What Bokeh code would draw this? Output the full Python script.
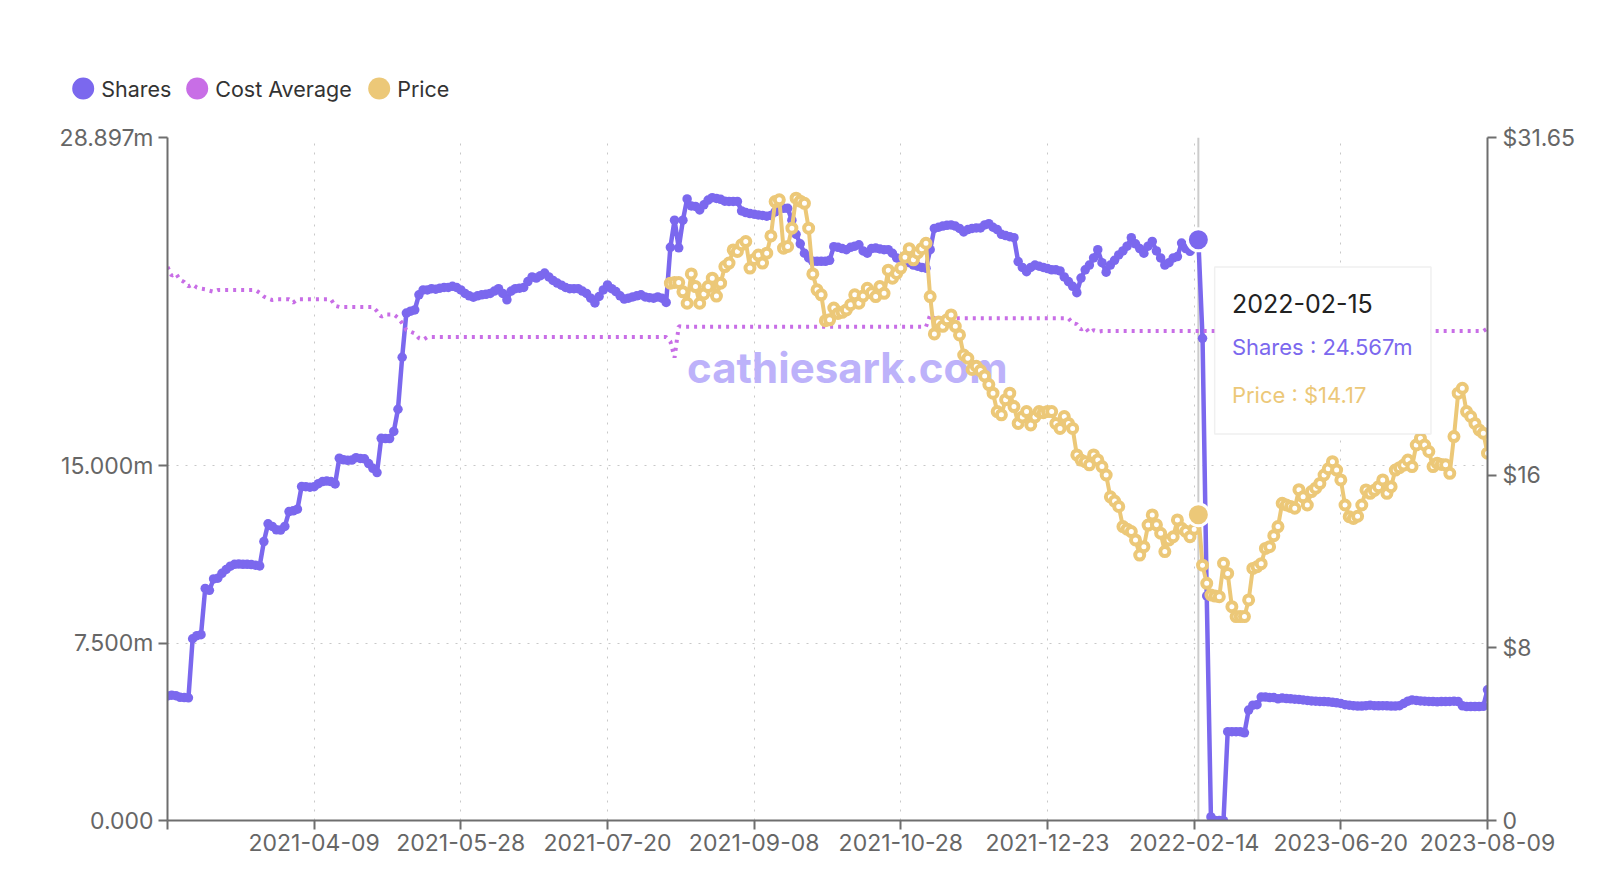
import numpy as np
from bokeh.plotting import figure
from bokeh.models import (Range1d, LinearAxis, FixedTicker, CustomJSTickFormatter, Span,
                          BoxAnnotation, Label, ColumnDataSource)
from bokeh.core.properties import value
from bokeh.embed import file_html
from bokeh.resources import INLINE

# ---------------- data ----------------
series_names = ["Shares", "Cost Average", "Price"]
series_colors = ["#7b68ee", "#c86ee6", "#ecc878"]

# x categories are trading days; a date label every 35 categories
tick_step = 35
tick_labels = ["", "2021-04-09", "2021-05-28", "2021-07-20", "2021-09-08", "2021-10-28",
               "2021-12-23", "2022-02-14", "2023-06-20", "2023-08-09"]

shares_m = [
    5.27, 5.30, 5.28, 5.21, 5.20, 5.19, 7.69, 7.82, 7.86, 9.82,
    9.74, 10.22, 10.25, 10.46, 10.62, 10.76, 10.84, 10.85, 10.84, 10.84,
    10.83, 10.80, 10.77, 11.80, 12.55, 12.44, 12.30, 12.29, 12.44, 13.07,
    13.10, 13.17, 14.13, 14.12, 14.10, 14.12, 14.25, 14.34, 14.36, 14.34,
    14.24, 15.33, 15.26, 15.24, 15.25, 15.35, 15.32, 15.30, 15.10, 14.90,
    14.72, 16.17, 16.16, 16.16, 16.46, 17.40, 19.60, 21.47, 21.55, 21.60,
    22.24, 22.45, 22.45, 22.50, 22.48, 22.52, 22.55, 22.55, 22.60, 22.55,
    22.45, 22.30, 22.20, 22.14, 22.20, 22.24, 22.26, 22.30, 22.40, 22.50,
    22.30, 22.03, 22.40, 22.50, 22.52, 22.55, 22.80, 23.00, 22.95, 23.05,
    23.16, 23.00, 22.85, 22.74, 22.65, 22.55, 22.50, 22.50, 22.50, 22.40,
    22.30, 22.10, 21.90, 22.17, 22.45, 22.66, 22.50, 22.38, 22.20, 22.06,
    22.10, 22.15, 22.20, 22.24, 22.15, 22.12, 22.10, 22.15, 22.10, 21.92,
    24.25, 25.40, 24.23, 25.40, 26.30, 26.00, 25.98, 25.83, 26.05, 26.25,
    26.35, 26.32, 26.28, 26.20, 26.19, 26.19, 26.19, 25.79, 25.72, 25.68,
    25.65, 25.62, 25.60, 25.57, 25.60, 25.75, 25.90, 25.90, 25.90, 25.40,
    24.80, 24.40, 24.00, 23.80, 23.66, 23.66, 23.66, 23.66, 23.70, 24.28,
    24.25, 24.20, 24.15, 24.25, 24.30, 24.36, 24.10, 24.00, 24.20, 24.22,
    24.18, 24.15, 24.15, 24.00, 23.80, 23.75, 23.70, 23.60, 23.50, 23.45,
    23.40, 23.37, 24.15, 25.05, 25.10, 25.15, 25.18, 25.20, 25.15, 25.05,
    24.90, 25.00, 25.05, 25.07, 25.07, 25.20, 25.25, 25.10, 25.00, 24.80,
    24.75, 24.70, 24.66, 23.65, 23.40, 23.22, 23.40, 23.50, 23.45, 23.40,
    23.35, 23.30, 23.30, 23.25, 23.00, 22.80, 22.60, 22.33, 22.95, 23.30,
    23.50, 23.80, 24.15, 23.60, 23.20, 23.50, 23.70, 23.93, 24.10, 24.30,
    24.66, 24.40, 24.20, 24.00, 24.30, 24.50, 24.10, 23.80, 23.50, 23.60,
    23.80, 23.86, 24.43, 24.20, 24.08, 24.30, 24.567, 20.40, 9.50, 0.15,
    0.00, 0.00, 0.00, 3.76, 3.76, 3.76, 3.76, 3.71, 4.67, 4.88,
    4.90, 5.22, 5.22, 5.20, 5.20, 5.15, 5.18, 5.16, 5.15, 5.13,
    5.12, 5.10, 5.08, 5.06, 5.05, 5.04, 5.03, 5.02, 5.00, 4.98,
    4.95, 4.90, 4.88, 4.86, 4.84, 4.84, 4.86, 4.88, 4.86, 4.85,
    4.86, 4.85, 4.84, 4.84, 4.86, 4.95, 5.05, 5.10, 5.08, 5.06,
    5.05, 5.04, 5.03, 5.02, 5.03, 5.03, 5.04, 5.05, 5.03, 4.85,
    4.82, 4.82, 4.82, 4.82, 4.83, 5.53,
]

cost_avg = [
    25.65, 25.25, 25.35, 25.05, 24.95, 24.75, 24.85, 24.70, 24.65, 24.62,
    24.55, 24.50, 24.58, 24.58, 24.58, 24.58, 24.58, 24.58, 24.58, 24.58,
    24.58, 24.58, 24.45, 24.28, 24.18, 24.12, 24.15, 24.15, 24.15, 24.15,
    24.00, 24.15, 24.15, 24.15, 24.15, 24.15, 24.15, 24.15, 24.15, 24.15,
    23.85, 23.80, 23.80, 23.80, 23.80, 23.80, 23.80, 23.80, 23.80, 23.80,
    23.60, 23.35, 23.45, 23.45, 23.45, 23.30, 23.04, 22.73, 22.65, 22.57,
    22.35, 22.28, 22.40, 22.40, 22.40, 22.40, 22.40, 22.40, 22.40, 22.40,
    22.40, 22.40, 22.40, 22.40, 22.40, 22.40, 22.40, 22.40, 22.40, 22.40,
    22.40, 22.40, 22.40, 22.40, 22.40, 22.40, 22.40, 22.40, 22.40, 22.40,
    22.40, 22.40, 22.40, 22.40, 22.40, 22.40, 22.40, 22.40, 22.40, 22.40,
    22.40, 22.40, 22.40, 22.40, 22.40, 22.40, 22.40, 22.40, 22.40, 22.40,
    22.40, 22.40, 22.40, 22.40, 22.40, 22.40, 22.40, 22.40, 22.40, 22.40,
    22.20, 21.45, 22.90, 22.88, 22.88, 22.88, 22.88, 22.88, 22.88, 22.88,
    22.88, 22.88, 22.88, 22.88, 22.88, 22.88, 22.88, 22.88, 22.88, 22.88,
    22.88, 22.88, 22.88, 22.88, 22.88, 22.88, 22.88, 22.88, 22.88, 22.88,
    22.88, 22.88, 22.88, 22.88, 22.88, 22.88, 22.88, 22.88, 22.88, 22.88,
    22.88, 22.88, 22.88, 22.88, 22.88, 22.88, 22.88, 22.88, 22.88, 22.88,
    22.88, 22.88, 22.88, 22.88, 22.88, 22.88, 22.88, 22.88, 22.88, 22.88,
    22.88, 22.88, 23.42, 23.27, 23.27, 23.27, 23.27, 23.27, 23.27, 23.27,
    23.27, 23.27, 23.27, 23.27, 23.27, 23.27, 23.27, 23.27, 23.27, 23.27,
    23.27, 23.27, 23.27, 23.27, 23.27, 23.27, 23.27, 23.27, 23.27, 23.27,
    23.27, 23.27, 23.27, 23.27, 23.27, 23.27, 23.05, 23.00, 22.75, 22.85,
    22.60, 22.72, 22.65, 22.68, 22.68, 22.68, 22.68, 22.68, 22.68, 22.68,
    22.68, 22.68, 22.68, 22.68, 22.68, 22.68, 22.68, 22.68, 22.68, 22.68,
    22.68, 22.68, 22.68, 22.68, 22.68, 22.68, 22.68, 22.68, 22.68, 22.68,
    22.68, 22.68, 22.68, 22.68, 22.68, 22.68, 22.68, 22.68, 22.68, 22.68,
    22.68, 22.68, 22.68, 22.68, 22.68, 22.68, 22.68, 22.68, 22.68, 22.68,
    22.68, 22.68, 22.68, 22.68, 22.68, 22.68, 22.68, 22.68, 22.68, 22.68,
    22.68, 22.68, 22.68, 22.68, 22.68, 22.68, 22.68, 22.68, 22.68, 22.68,
    22.68, 22.68, 22.68, 22.68, 22.68, 22.68, 22.68, 22.68, 22.68, 22.68,
    22.68, 22.68, 22.68, 22.68, 22.68, 22.68, 22.68, 22.68, 22.68, 22.68,
    22.68, 22.68, 22.68, 22.68, 22.68, 22.80,
]

# price is only reported from category 120 onward
price_first_index = 120
price_values = [
    24.90, 24.93, 24.93, 24.50, 23.97, 25.33, 24.74, 23.97, 24.40, 24.74,
    25.13, 24.30, 24.90, 25.67, 25.83, 26.44, 26.37, 26.68, 26.83, 25.60,
    26.00, 26.20, 25.83, 26.29, 27.09, 28.68, 28.76, 26.52, 26.60, 27.45,
    28.84, 28.70, 28.60, 27.45, 25.33, 24.59, 24.36, 23.16, 23.20, 23.75,
    23.50, 23.55, 23.66, 23.90, 24.36, 23.97, 24.30, 24.66, 24.45, 24.28,
    24.74, 24.43, 25.50, 25.13, 25.35, 25.60, 26.10, 26.50, 25.98, 26.30,
    26.50, 26.75, 24.28, 22.55, 23.10, 22.90, 23.20, 23.43, 22.90, 22.50,
    21.57, 21.42, 20.90, 21.05, 20.85, 20.60, 20.20, 19.80, 18.95, 18.80,
    19.50, 19.80, 19.18, 18.40, 18.70, 18.95, 18.33, 18.70, 18.95, 18.90,
    18.95, 18.95, 18.40, 18.17, 18.72, 18.40, 18.17, 16.94, 16.70, 16.63,
    16.48, 16.94, 16.71, 16.40, 16.01, 15.00, 14.80, 14.55, 13.62, 13.50,
    13.39, 13.00, 12.30, 12.69, 13.69, 14.16, 13.70, 13.31, 12.46, 13.00,
    13.15, 13.93, 13.54, 13.40, 13.15, 13.50, 14.17, 11.83, 10.99, 10.45,
    10.40, 10.37, 11.92, 11.45, 9.91, 9.45, 9.45, 9.45, 10.22, 11.68,
    11.76, 11.90, 12.61, 12.69, 13.20, 13.62, 14.70, 14.62, 14.55, 14.47,
    15.33, 15.00, 14.62, 15.24, 15.40, 15.62, 16.01, 16.30, 16.63, 16.24,
    15.78, 14.62, 14.08, 14.00, 14.10, 14.62, 15.32, 15.16, 15.30, 15.47,
    15.78, 15.16, 15.47, 16.24, 16.35, 16.47, 16.70, 16.40, 17.40, 17.71,
    17.40, 17.10, 16.40, 16.56, 16.50, 16.48, 16.09, 17.79, 19.80, 20.03,
    18.95, 18.72, 18.40, 18.10, 17.95, 17.02,
]

hover_index = 246
hover_date = "2022-02-15"

shares_ticks = [0, 7.5, 15, 28.897]
price_ticks = [0, 8, 16, 31.65]

# ---------------- build ----------------
N = len(shares_m)
xs = np.arange(N)
price_full = np.full(N, np.nan)
price_full[price_first_index:price_first_index + len(price_values)] = price_values

src = ColumnDataSource(dict(x=xs, shares=np.array(shares_m, dtype=float),
                            cost=np.array(cost_avg, dtype=float), price=price_full))

FONT = "Inter"
AX = "#6e6e6e"
FRAME_W, FRAME_H = 1320, 683
BL, BR, BB = 167, 105, 46
TOTAL_W = BL + FRAME_W + BR
LEG_H = 110
BT = 137 - LEG_H

# ---- legend strip (separate root, pixel coordinates) ----
leg = figure(width=TOTAL_W, height=LEG_H, x_range=Range1d(0, TOTAL_W),
             y_range=Range1d(LEG_H, 0), toolbar_location=None, output_backend="svg",
             min_border=0, outline_line_color=None, x_axis_type=None, y_axis_type=None)
leg.grid.visible = False
leg_cx = [82.7, 196.7, 378.7]
leg_cy = [88, 88, 88]
leg.scatter(x=leg_cx, y=leg_cy, size=22, marker="circle",
            fill_color=series_colors, line_color=None)
leg.text(x=[c + 18 for c in leg_cx], y=leg_cy, text=series_names,
         text_font=value(FONT), text_font_size="21.5px", text_baseline="middle",
         text_align="left", text_color="#333333")

# ---- main chart ----
p = figure(frame_width=FRAME_W, frame_height=FRAME_H,
           x_range=Range1d(0, N - 1), y_range=Range1d(0, shares_ticks[-1]),
           min_border_left=BL, min_border_right=BR, min_border_top=BT, min_border_bottom=BB,
           toolbar_location=None, output_backend="svg", outline_line_color=None)
p.extra_y_ranges = {"price": Range1d(0, price_ticks[-1])}

xticker = FixedTicker(ticks=[i * tick_step for i in range(len(tick_labels))])
p.xaxis.ticker = xticker
p.xaxis.major_label_overrides = {i * tick_step: lab for i, lab in enumerate(tick_labels)}
p.xaxis.major_label_standoff = 4

yticker = FixedTicker(ticks=shares_ticks)
p.yaxis.ticker = yticker
p.yaxis.formatter = CustomJSTickFormatter(
    code="return tick === 0 ? '0.000' : tick.toFixed(3) + 'm';")
p.yaxis.major_label_standoff = 5

ra = LinearAxis(y_range_name="price", ticker=FixedTicker(ticks=price_ticks),
                formatter=CustomJSTickFormatter(
                    code="return tick === 0 ? '0' : '$' + (Math.round(tick * 100) / 100);"))
ra.major_label_standoff = 6
p.add_layout(ra, "right")

for ax in [p.xaxis[0], p.yaxis[0], ra]:
    ax.axis_line_color = AX
    ax.axis_line_width = 2
    ax.major_tick_line_color = AX
    ax.major_tick_line_width = 2
    ax.major_tick_out = 9
    ax.major_tick_in = 0
    ax.minor_tick_line_color = None
    ax.major_label_text_font = FONT
    ax.major_label_text_font_size = "23px"
    ax.major_label_text_color = "#666666"

p.xgrid.ticker = xticker
p.ygrid.ticker = yticker
for g in [p.xgrid[0], p.ygrid[0]]:
    g.grid_line_color = "#c8c8c8"
    g.grid_line_dash = "2 7"
    g.grid_line_width = 1

# watermark
p.add_layout(Label(x=124, y=19.15, text="cathiesark.com", text_font=FONT,
                   text_font_size="42px", text_font_style="bold", text_color="#bdb2fa",
                   text_baseline="middle", level="underlay"))

# hover pointer line
p.add_layout(Span(location=hover_index, dimension="height", line_color="#cccccc",
                  line_width=2, level="underlay"))

# series
p.line("x", "shares", source=src, line_color=series_colors[0], line_width=4.5,
       line_join="round")
p.scatter("x", "shares", source=src, size=9.5, marker="circle",
          fill_color=series_colors[0], line_color=None)

p.line("x", "cost", source=src, y_range_name="price", line_color=series_colors[1],
       line_width=4, line_dash="3 5")

p.line("x", "price", source=src, y_range_name="price", line_color=series_colors[2],
       line_width=4, line_join="round")
p.scatter("x", "price", source=src, y_range_name="price", size=9, marker="circle",
          fill_color="white", line_color=series_colors[2], line_width=4)

# highlighted points
p.scatter([hover_index], [shares_m[hover_index]], size=22, marker="circle",
          fill_color=series_colors[0], line_color="white", line_width=3)
p.scatter([hover_index], [price_full[hover_index]], y_range_name="price", size=22,
          marker="circle", fill_color=series_colors[2], line_color="white", line_width=3)

# tooltip
p.add_layout(BoxAnnotation(left=249.9, right=301.5, top=23.42, bottom=16.35,
                           fill_color="white", fill_alpha=1.0,
                           line_color="#cccccc", line_width=1.5))
tip_x = 254.0
p.add_layout(Label(x=tip_x, y=21.89, text=hover_date, text_font=FONT,
                   text_font_size="25px", text_color="#222222", text_baseline="middle"))
p.add_layout(Label(x=tip_x, y=20.05, text=f"Shares : {shares_m[hover_index]:.3f}m",
                   text_font=FONT, text_font_size="22px", text_color=series_colors[0],
                   text_baseline="middle"))
p.add_layout(Label(x=tip_x, y=18.02, text=f"Price : ${price_full[hover_index]:.2f}",
                   text_font=FONT, text_font_size="22px", text_color=series_colors[2],
                   text_baseline="middle"))

open("out.html", "w").write(file_html([leg, p], INLINE))
